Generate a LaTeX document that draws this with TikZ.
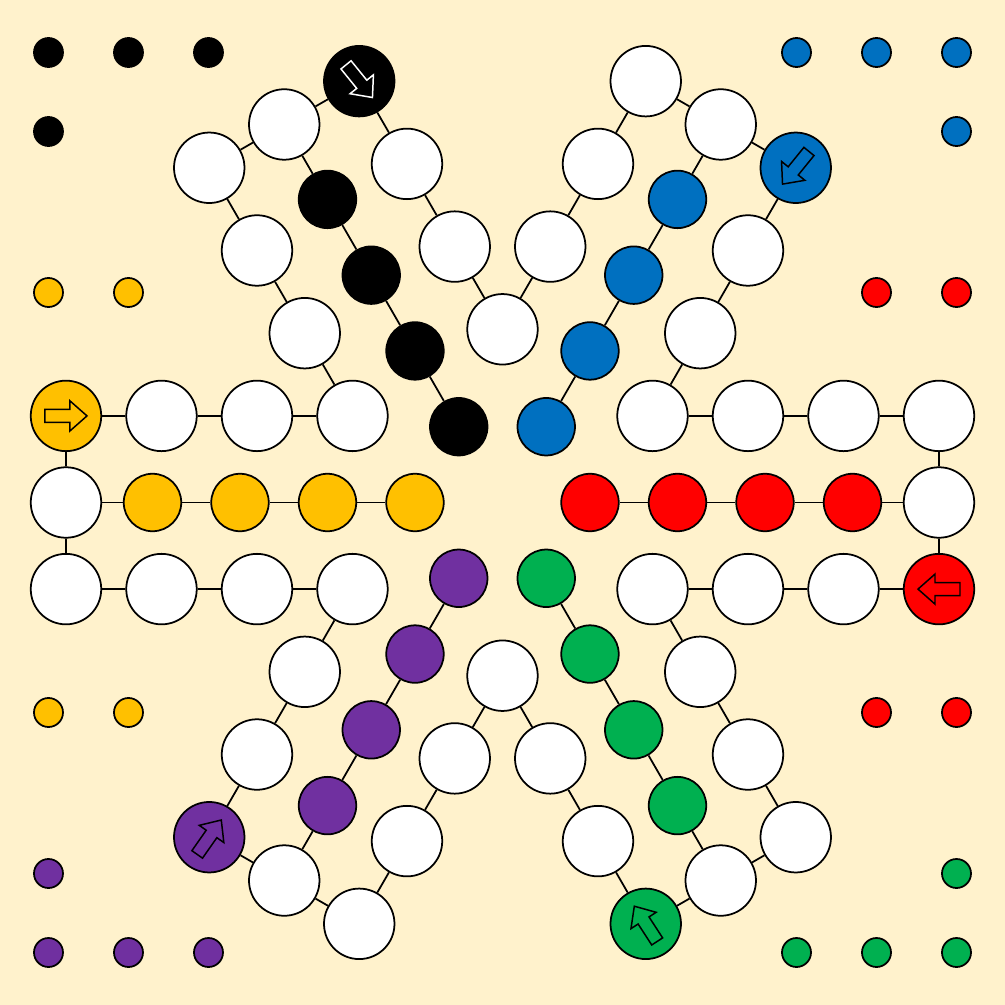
\documentclass[tikz,border=0pt]{standalone}
\usepackage{tikz}
\definecolor{bg}{HTML}{FFF2CC}
\definecolor{cyel}{HTML}{FFC000}
\definecolor{cred}{HTML}{FF0000}
\definecolor{cblu}{HTML}{0070C0}
\definecolor{cpur}{HTML}{7030A0}
\definecolor{cgrn}{HTML}{00B050}
\tikzset{
  fld/.style={circle,draw,line width=1pt,fill=white,minimum size=1.41cm,inner sep=0pt},
  st/.style={fld,fill=#1},
  hm/.style={circle,draw,line width=1pt,fill=#1,minimum size=1.15cm,inner sep=0pt},
  pit/.style={circle,draw,line width=1pt,fill=#1,minimum size=0.58cm,inner sep=0pt},
  lnk/.style={line width=1pt},
  arr/.style={line width=0.85pt,line join=miter}
}

\begin{document}
\begin{tikzpicture}[x=0.02cm,y=0.02cm]
\fill[bg] (-502.5,-502.5) rectangle (502.5,502.5);
% arms: angle / colour / name / arrow outline / arrow tilt
\foreach \ang/\col/\nm/\ac/\tw in {0/cred/r/black/0,60/cblu/b/black/-9,120/black/k/white/9,
  180/cyel/y/black/0,240/cpur/p/black/-5,300/cgrn/g/black/3}{
  \begin{scope}[rotate=\ang]
    \node[fld] (\nm a1) at (150,86.6) {};
    \node[fld] (\nm a2) at (245.5,86.6) {};
    \node[fld] (\nm a3) at (341,86.6) {};
    \node[fld] (\nm a4) at (436.5,86.6) {};
    \node[fld] (\nm m) at (436.5,0) {};
    \node[st=\col] (\nm s) at (436.5,-86.6) {};
    \node[fld] (\nm b3) at (341,-86.6) {};
    \node[fld] (\nm b2) at (245.5,-86.6) {};
    \foreach \k in {1,...,4}
      \node[hm=\col] (\nm h\k) at (87.5*\k,0) {};
    \draw[arr,draw=\ac,fill=\col,shift={(436.5,-86.6)},rotate=\tw]
      (-21,0) -- (-4,15) -- (-4,6.5) -- (21,6.5) -- (21,-6.5) -- (-4,-6.5) -- (-4,-15) -- cycle;
  \end{scope}
}
% track and home rows
\foreach \nm/\pv in {r/g,b/r,k/b,y/k,p/y,g/p}{
  \draw[lnk] (\nm a1) -- (\nm a2) -- (\nm a3) -- (\nm a4) -- (\nm m) -- (\nm s) -- (\nm b3) -- (\nm b2) -- (\pv a1);
  \draw[lnk] (\nm m) -- (\nm h4) -- (\nm h3) -- (\nm h2) -- (\nm h1);
}
% waiting pieces
\foreach \x/\y/\col [count=\i] in {-454/450/black,-374/450/black,-294/450/black,-454/371/black,
  294/450/cblu,374/450/cblu,454/450/cblu,454/371/cblu,
  -454/210/cyel,-374/210/cyel,-454/-210/cyel,-374/-210/cyel,
  374/210/cred,454/210/cred,374/-210/cred,454/-210/cred,
  -454/-371/cpur,-454/-450/cpur,-374/-450/cpur,-294/-450/cpur,
  454/-371/cgrn,294/-450/cgrn,374/-450/cgrn,454/-450/cgrn}
  \node[pit=\col] (t\i) at (\x,\y) {};
\end{tikzpicture}
\end{document}
